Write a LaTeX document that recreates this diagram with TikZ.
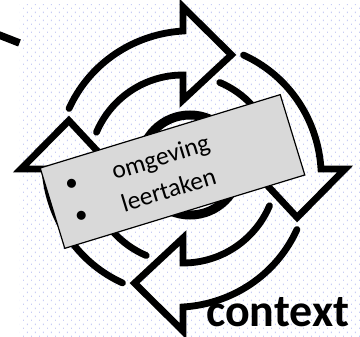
\documentclass[tikz,border=0pt]{standalone}
\usepackage{fontspec}
\setmainfont{Carlito}
\usetikzlibrary{patterns}
\pgfdeclarepatternformonly{bgdots}{\pgfpoint{0pt}{0pt}}{\pgfpoint{8pt}{8pt}}{\pgfpoint{8pt}{8pt}}{%
  \pgfpathrectangle{\pgfpoint{0pt}{0pt}}{\pgfpoint{0.9pt}{1.4pt}}%
  \pgfpathrectangle{\pgfpoint{4pt}{4pt}}{\pgfpoint{0.9pt}{1.4pt}}%
  \pgfusepath{fill}}
\definecolor{dotc}{RGB}{200,205,245}
\definecolor{boxfill}{RGB}{217,217,217}
\begin{document}
\begin{tikzpicture}[x=1pt,y=-1pt,
  arrowline/.style={line width=6.8pt, line cap=round, line join=miter, miter limit=10},
  ringline/.style={line width=9pt},
  cutline/.style={line width=7.5pt},
  labelbox/.style={draw=black, line width=1.2pt, fill=boxfill, minimum width=251pt, minimum height=84pt, inner sep=0pt},
  itemtxt/.style={font=\fontsize{25.5}{30}\selectfont, inner sep=0pt, anchor=base west},
  bullettxt/.style={font=\fontsize{25.5}{30}\selectfont, inner sep=0pt},
  ctxtxt/.style={font=\fontsize{46}{50}\selectfont\bfseries, inner sep=0pt, anchor=base west}]
\useasboundingbox (0,0) rectangle (360,337);
\clip (0,0) rectangle (360,337);
\fill[pattern=bgdots, pattern color=dotc] (20,5) rectangle (360,337);
\coordinate (cutA) at (-6,33);
\coordinate (cutB) at (19.5,43);
\draw[cutline] (cutA) -- (cutB);
\def\cx{183}\def\cy{169}
\foreach \b in {90,0,-90,-180}{
  \pgfmathsetmacro\ta{\b+62}
  \pgfmathsetmacro\tb{\b+67}
  \draw[arrowline] plot[domain=\ta:\b, samples=40] ({\cx+(129+9*(\ta-\x)/62)*cos(\x)},{\cy-(129+9*(\ta-\x)/62)*sin(\x)})
   -- ({\cx+162*cos(\b)},{\cy-162*sin(\b)})
   -- ({\cx+124*cos(\b-23)},{\cy-124*sin(\b-23)})
   -- ({\cx+69*cos(\b)},{\cy-69*sin(\b)})
   -- plot[domain=\b:\tb, samples=40] ({\cx+94*cos(\x)},{\cy-94*sin(\x)});
}
\coordinate (ringc) at (190,165);
\draw[ringline] (ringc) circle[radius=50];
\begin{scope}[shift={(172.5,171.5)}, rotate=17, transform shape]
  \node[labelbox] (lbl) at (0,0) {};
  \node[bullettxt] (b1) at (-100,-16.8) {•};
  \node[bullettxt] (b2) at (-100,16.8) {•};
  \node[itemtxt] (t1) at (-58,-8.8) {omgeving};
  \node[itemtxt] (t2) at (-58,24.8) {leertaken};
\end{scope}
\node[ctxtxt] (ctx) at (206,327) {context};
\end{tikzpicture}
\end{document}
